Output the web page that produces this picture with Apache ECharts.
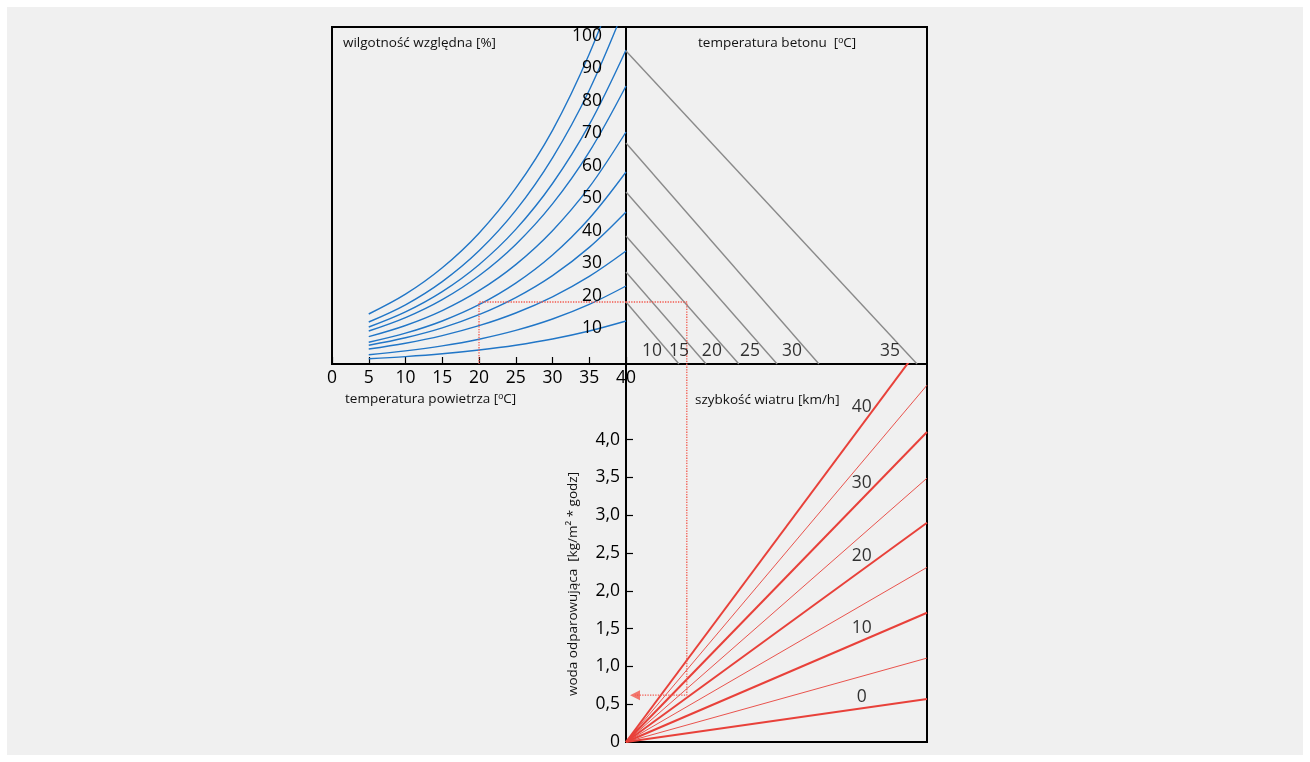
<!DOCTYPE html>
<html>
<head>
<meta charset="utf-8">
<script src="https://cdn.jsdelivr.net/npm/echarts@6/dist/echarts.min.js"></script>
<style>
html,body{margin:0;padding:0;background:#ffffff;}
#c{width:1310px;height:762px;}
</style>
</head>
<body>
<div id="c"></div>
<script>
// ---------------- DATA ----------------
// Top-left: air temperature [°C] vs relative-humidity curves (unlabelled vertical scale)
const airTemps = [5, 10, 15, 20, 25, 30, 35, 40];
const rhLevels = [10, 20, 30, 40, 50, 60, 70, 80, 90, 100];
const rh10  = [5.3, 7.4, 10.2, 14.0, 18.8, 25.0, 33.0, 43];
const rh20  = [9.3, 13.1, 18.1, 24.8, 33.6, 45.0, 59.6, 78];
const rh30  = [15, 20.8, 28.4, 38.3, 51.0, 67.2, 87.6, 113];
const rh40  = [18.7, 26.2, 36.1, 49.3, 66.4, 88.4, 116.6, 152];
const rh50  = [21.7, 30.8, 43.0, 59.3, 80.9, 109.0, 145.5, 192];
const rh60  = [27.3, 38.5, 53.4, 73.3, 99.4, 133.3, 176.8, 232];
const rh70  = [33, 46.4, 64.4, 88.3, 119.6, 160.1, 212.1, 278];
const rh80  = [37, 52.1, 72.4, 99.3, 134.6, 180.5, 239.3, 314];
const rh90  = [42, 59.2, 82.4, 113.2, 153.6, 206.2, 273.8, 360];
const rh100 = [50, 69.8, 96.2, 130.8, 175.8, 233.7, 310.0, 405];

// Top-right: concrete temperature lines (start on shared vertical scale, end on bottom edge)
const concreteTemps  = [10, 15, 20, 25, 30, 35];
const concreteStartY = [62, 92, 128, 172, 221, 313];
const concreteEndX   = [17.6, 26.6, 37.5, 50.2, 64.1, 96.7];

// Bottom-right: wind speed [km/h] lines, evaporation value reached at right edge
const windSpeeds = [0, 5, 10, 15, 20, 25, 30, 35, 40];
const evapAtRight = [0.57, 1.11, 1.71, 2.31, 2.90, 3.49, 4.10, 4.72, 5.35];
const evapTicks  = [0.5, 1.0, 1.5, 2.0, 2.5, 3.0, 3.5, 4.0];
const evapLabels = [0, 0.5, 1.0, 1.5, 2.0, 2.5, 3.0, 3.5, 4.0];

// Example reading (red dotted guide)
const readAirTemp = 20;
const readLevel = 62;
const readConcreteX = 20.2;
const readEvap = 0.62;

// ---------------- CHART ----------------
const FONT = '"Open Sans", "Noto Sans", sans-serif';
const BLUE = '#2176c7', GRAY = '#8a8a8a', RED = '#e8413a', GUIDE = '#f2574c', INK = '#000000';
const rhCurves = [rh10, rh20, rh30, rh40, rh50, rh60, rh70, rh80, rh90, rh100];

const series = [];
rhCurves.forEach((vals, i) => {
  series.push({
    name: 'RH ' + rhLevels[i] + '%', type: 'line', xAxisIndex: 0, yAxisIndex: 0,
    data: airTemps.map((t, j) => [t, vals[j]]),
    smooth: 0.35, symbol: 'none', clip: true, silent: true,
    lineStyle: { color: BLUE, width: 1.4 }
  });
});
concreteTemps.forEach((c, i) => {
  series.push({
    name: 'beton ' + c, type: 'line', xAxisIndex: 1, yAxisIndex: 2,
    data: [[0, concreteStartY[i]], [concreteEndX[i], 0]],
    symbol: 'none', clip: true, silent: true,
    lineStyle: { color: GRAY, width: 1.4 }
  });
});
series.push({
  type: 'scatter', xAxisIndex: 1, yAxisIndex: 2, symbolSize: 1, silent: true, z: 5,
  itemStyle: { color: 'rgba(0,0,0,0)' },
  data: concreteEndX.map((x, i) => [x, 0, concreteTemps[i]]),
  label: { show: true, position: 'inside', offset: [-27, -13], color: INK, fontSize: 17.5, fontFamily: FONT,
           formatter: p => String(p.value[2]) }
});
windSpeeds.forEach((w, i) => {
  series.push({
    name: 'wiatr ' + w, type: 'line', xAxisIndex: 2, yAxisIndex: 3,
    data: [[0, 0], [100, evapAtRight[i]]],
    symbol: 'none', clip: true, silent: true,
    lineStyle: { color: RED, width: (w % 10 === 0) ? 2 : 0.9 }
  });
});
series.push({
  type: 'scatter', xAxisIndex: 2, yAxisIndex: 3, symbolSize: 1, silent: true, z: 5,
  itemStyle: { color: 'rgba(0,0,0,0)' },
  data: windSpeeds.map((w, i) => [80, evapAtRight[i] * 0.8, w]).filter(d => d[2] % 10 === 0),
  label: { show: true, position: 'inside', offset: [-5, -11], color: INK, fontSize: 17.5, fontFamily: FONT,
           formatter: p => String(p.value[2]) }
});
// guide
const guideStyle = { color: GUIDE, width: 1.3, type: 'dotted' };
series.push({ type: 'line', xAxisIndex: 0, yAxisIndex: 0, symbol: 'none', silent: true, lineStyle: guideStyle,
  data: [[readAirTemp, 0], [readAirTemp, readLevel], [40, readLevel]] });
series.push({ type: 'line', xAxisIndex: 1, yAxisIndex: 2, symbol: 'none', silent: true, lineStyle: guideStyle,
  data: [[0, readLevel], [readConcreteX, readLevel], [readConcreteX, 0]] });
series.push({ type: 'line', xAxisIndex: 2, yAxisIndex: 3, symbol: 'none', silent: true, lineStyle: guideStyle,
  data: [[readConcreteX, 5], [readConcreteX, readEvap], [3, readEvap]] });
series.push({ type: 'scatter', xAxisIndex: 2, yAxisIndex: 3, silent: true, symbol: 'triangle',
  symbolSize: [10, 10], symbolRotate: 90, itemStyle: { color: GUIDE }, data: [[3, readEvap]] });

const fmtComma = v => (v === 0 ? '0' : v.toFixed(1).replace('.', ','));
const gridBase = { show: true, borderColor: '#000', borderWidth: 2, backgroundColor: 'transparent' };
const TITLE_FONT = '13.5px ' + FONT;
const sup = { s: { fontSize: 9, verticalAlign: 'top', fill: '#111' } };

const option = {
  backgroundColor: '#ffffff',
  animation: false,
  textStyle: { fontFamily: FONT },
  grid: [
    Object.assign({ left: 332, top: 27, width: 294, height: 337 }, gridBase),
    Object.assign({ left: 626, top: 27, width: 301, height: 337 }, gridBase),
    Object.assign({ left: 626, top: 364, width: 301, height: 378 }, gridBase)
  ],
  xAxis: [
    { gridIndex: 0, type: 'value', min: 0, max: 40, interval: 5,
      axisLine: { show: true, lineStyle: { color: '#000', width: 2 } },
      axisTick: { show: true, inside: true, length: 7, lineStyle: { color: '#000', width: 1.2 } },
      axisLabel: { color: INK, fontSize: 17.5, fontFamily: FONT, margin: 5, showMinLabel: true, showMaxLabel: true },
      splitLine: { show: false } },
    { gridIndex: 1, type: 'value', min: 0, max: 100, show: false },
    { gridIndex: 2, type: 'value', min: 0, max: 100, show: false }
  ],
  yAxis: [
    { gridIndex: 0, type: 'value', min: 0, max: 337, show: false },
    { gridIndex: 0, type: 'value', position: 'right', min: -1.096, max: 102.774, z: 5,
      axisLine: { show: false }, axisTick: { show: false }, splitLine: { show: false },
      axisLabel: { inside: true, margin: 24, customValues: rhLevels, color: INK, fontSize: 17.5, fontFamily: FONT } },
    { gridIndex: 1, type: 'value', min: 0, max: 337, show: false },
    { gridIndex: 2, type: 'value', min: 0, max: 5,
      axisLine: { show: true, lineStyle: { color: '#000', width: 2 } },
      axisTick: { show: true, inside: true, length: 7, customValues: evapTicks, lineStyle: { color: '#000', width: 1.2 } },
      axisLabel: { customValues: evapLabels, formatter: fmtComma, margin: 6, color: INK, fontSize: 17.5, fontFamily: FONT },
      splitLine: { show: false } }
  ],
  graphic: [
    { type: 'rect', z: -10, silent: true, shape: { x: 7, y: 7, width: 1296, height: 748 }, style: { fill: '#f0f0f0' } },
    { type: 'text', z: 100, left: 343, top: 36, silent: true,
      style: { text: 'wilgotność względna [%]', font: TITLE_FONT, fill: '#111' } },
    { type: 'text', z: 100, left: 698, top: 36, silent: true,
      style: { text: 'temperatura betonu  [{s|o}C]', font: TITLE_FONT, fill: '#111', rich: sup } },
    { type: 'text', z: 100, left: 345, top: 392, silent: true,
      style: { text: 'temperatura powietrza [{s|o}C]', font: TITLE_FONT, fill: '#111', rich: sup } },
    { type: 'text', z: 100, left: 695, top: 393, silent: true,
      style: { text: 'szybkość wiatru [km/h]', font: TITLE_FONT, fill: '#111' } },
    { type: 'text', z: 100, x: 573, y: 584, rotation: Math.PI / 2, silent: true,
      style: { text: 'woda odparowująca  [kg/m² * godz]', font: TITLE_FONT, fill: '#111',
               align: 'center', verticalAlign: 'middle' } }
  ],
  series: series
};

const chart = echarts.init(document.getElementById('c'));
chart.setOption(option);
</script>
</body>
</html>
